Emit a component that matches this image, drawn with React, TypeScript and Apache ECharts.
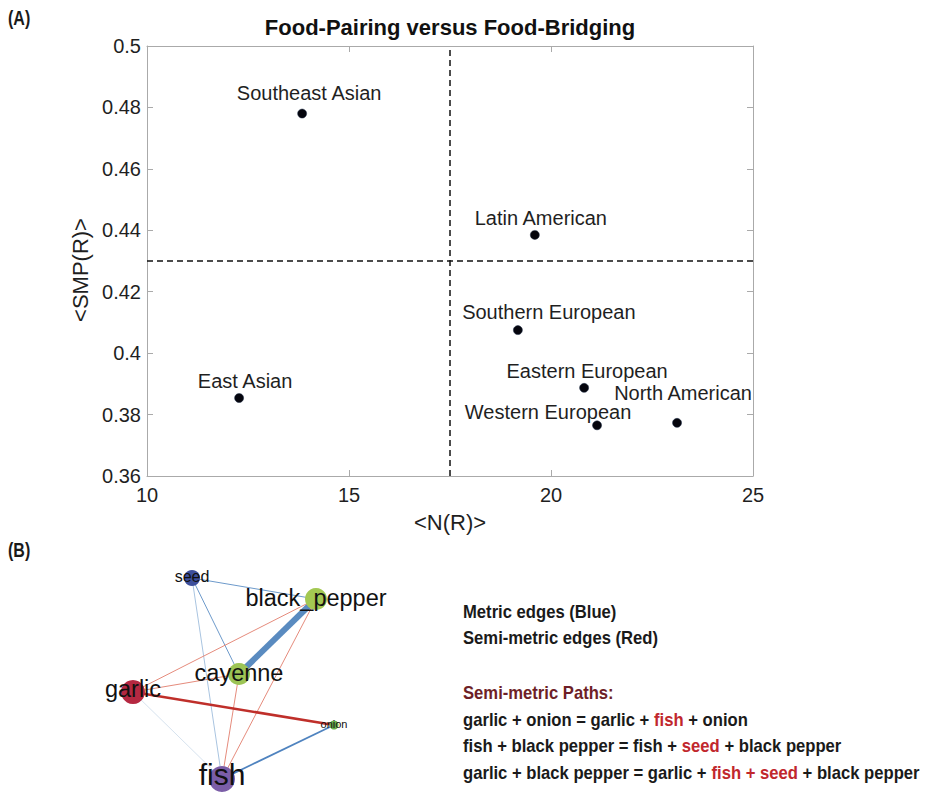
import React, { useEffect, useRef } from "react";
import * as echarts from "echarts";

// ---------- Panel A data ----------
const cuisines = [
  "Southeast Asian",
  "Latin American",
  "Southern European",
  "East Asian",
  "Eastern European",
  "North American",
  "Western European",
];
const meanN = [13.84, 19.6, 19.18, 12.28, 20.82, 23.12, 21.14];
const meanSMP = [0.478, 0.4385, 0.4075, 0.3854, 0.3887, 0.3773, 0.3765];
const xTicks = [10, 15, 20, 25];
const yTicks = [0.36, 0.38, 0.4, 0.42, 0.44, 0.46, 0.48, 0.5];
const splitN = 17.5;
const splitSMP = 0.43;
// label offsets (style) for each cuisine label, relative to its point
const labelOffsets = [
  [7, -21],
  [6, -17],
  [31, -18],
  [6, -17],
  [3, -17],
  [6, -30],
  [-49, -13],
];

// ---------- Panel B data ----------
const nodeNames = ["seed", "black_pepper", "cayenne", "garlic", "onion", "fish"];
const nodeX = [192, 316, 239, 133, 334, 222];
const nodeY = [578, 599, 674, 692, 725, 779];
const nodeSizes = [16, 22, 22, 24, 9, 26];
const nodeColors = ["#3d4f9c", "#a3c852", "#9cc455", "#b52841", "#6ab04c", "#7b5ea7"];
const nodeFont = [16, 23.5, 23.5, 23.5, 11, 30];
const nodeLabelDy = [-2, -1, -1, -3, -1, -5];

const linkSource = ["seed", "seed", "seed", "black_pepper", "black_pepper", "black_pepper", "cayenne", "cayenne", "garlic", "garlic", "fish"];
const linkTarget = ["black_pepper", "cayenne", "fish", "cayenne", "garlic", "fish", "garlic", "fish", "onion", "fish", "onion"];
const linkColor = ["#6d9acb", "#6d9acb", "#a9c4e0", "#5a8bc0", "#e58b7c", "#e58b7c", "#e58b7c", "#e58b7c", "#bf2f2a", "#d6e2ee", "#4f83bf"];
const linkWidth = [1, 1, 1, 6, 1, 1, 1, 1, 2.6, 1, 1.8];

const BLACK = "#1f1f1f";
const RED = "#c1272d";
const BOLDFONT = "'Liberation Sans', Arial, sans-serif";
const CONDENSE = 0.9;

export default function App() {
  const ref = useRef<HTMLDivElement>(null);

  useEffect(() => {
    document.body.style.margin = "0";
    if (!ref.current) return;
    const chart = echarts.init(ref.current, undefined, { renderer: "svg" });

    const scatterData = cuisines.map((name, i) => ({
      name,
      value: [meanN[i], meanSMP[i]],
      label: { offset: labelOffsets[i] },
    }));

    const axisLine = { show: true, lineStyle: { color: "#aaaaaa", width: 1 } };
    const tick = { show: true, inside: true, length: 6, lineStyle: { color: "#aaaaaa" } };

    const graphNodes = nodeNames.map((name, i) => ({
      name,
      value: [nodeX[i], nodeY[i]],
      symbolSize: nodeSizes[i],
      itemStyle: { color: nodeColors[i], opacity: 1 },
      label: {
        show: true,
        position: "inside",
        fontSize: nodeFont[i],
        offset: [0, nodeLabelDy[i]],
        color: "#111",
        fontFamily: "'Liberation Sans', Arial, sans-serif",
      },
    }));
    const graphLinks = linkSource.map((s, i) => ({
      source: s,
      target: linkTarget[i],
      lineStyle: { color: linkColor[i], width: linkWidth[i], opacity: 1, curveness: 0 },
    }));

    const pathLine = (parts: [string, boolean][]) =>
      parts.map(([t, red]) => `{${red ? "r" : "k"}|${t}}`).join("");

    const textRich = {
      k: { fill: "#1a1a1a", fontSize: 18.5, fontWeight: "bold", fontFamily: BOLDFONT },
      r: { fill: RED, fontSize: 18.5, fontWeight: "bold", fontFamily: BOLDFONT },
    };

    const rightLines: { y: number; parts: [string, boolean][] }[] = [
      { y: 612, parts: [["Metric edges (Blue)", false]] },
      { y: 638, parts: [["Semi-metric edges (Red)", false]] },
      { y: 720, parts: [["garlic + onion = garlic + ", false], ["fish", true], [" + onion", false]] },
      { y: 746, parts: [["fish + black pepper = fish + ", false], ["seed", true], [" + black pepper", false]] },
      { y: 773, parts: [["garlic + black pepper = garlic + ", false], ["fish + seed", true], [" + black pepper", false]] },
    ];

    chart.setOption({
      animation: false,
      textStyle: { fontFamily: "'Liberation Sans', Arial, Helvetica, sans-serif" },
      title: {
        text: "Food-Pairing versus Food-Bridging",
        left: 450,
        top: 16,
        textAlign: "center",
        padding: 0,
        textStyle: { fontSize: 22, fontWeight: "bold", color: "#111" },
      },
      grid: [
        { left: 147, top: 46, width: 606, height: 430, containLabel: false },
        { left: 0, top: 0, width: 925, height: 792, containLabel: false },
      ],
      xAxis: [
        {
          type: "value",
          gridIndex: 0,
          min: 10,
          max: 25,
          interval: 5,
          position: "bottom",
          name: "<N(R)>",
          nameLocation: "middle",
          nameGap: 35,
          nameTextStyle: { fontSize: 22, color: BLACK },
          axisLine,
          axisTick: tick,
          splitLine: { show: false },
          axisLabel: {
            fontSize: 20,
            color: BLACK,
            margin: 9,
            formatter: (v: number) => (xTicks.indexOf(v) >= 0 ? String(v) : ""),
          },
        },
        {
          type: "value",
          gridIndex: 0,
          min: 10,
          max: 25,
          interval: 5,
          position: "top",
          axisLine,
          axisTick: tick,
          splitLine: { show: false },
          axisLabel: { show: false },
        },
        { type: "value", gridIndex: 1, min: 0, max: 925, show: false },
      ],
      yAxis: [
        {
          type: "value",
          gridIndex: 0,
          min: 0.36,
          max: 0.5,
          interval: 0.02,
          position: "left",
          name: "<SMP(R)>",
          nameLocation: "middle",
          nameGap: 52,
          nameTextStyle: { fontSize: 22, color: BLACK, padding: [0, 18, 0, 0] },
          axisLine,
          axisTick: tick,
          splitLine: { show: false },
          axisLabel: {
            fontSize: 20,
            color: BLACK,
            margin: 6,
            formatter: (v: number) => {
              const s = String(Math.round(v * 100) / 100);
              return yTicks.some((t) => Math.abs(t - v) < 1e-9) ? s : "";
            },
          },
        },
        {
          type: "value",
          gridIndex: 0,
          min: 0.36,
          max: 0.5,
          interval: 0.02,
          position: "right",
          axisLine,
          axisTick: tick,
          splitLine: { show: false },
          axisLabel: { show: false },
        },
        { type: "value", gridIndex: 1, min: 0, max: 792, inverse: true, show: false },
      ],
      series: [
        {
          type: "scatter",
          xAxisIndex: 0,
          yAxisIndex: 0,
          symbolSize: 9,
          itemStyle: { color: "#05050d", borderColor: "#1b2a44", borderWidth: 0.5, opacity: 1 },
          data: scatterData,
          label: {
            show: true,
            position: "inside",
            formatter: "{b}",
            fontSize: 20,
            color: BLACK,
            opacity: 1,
            textBorderWidth: 0,
            align: "center",
            verticalAlign: "middle",
          },
          markLine: {
            silent: true,
            symbol: "none",
            label: { show: false },
            lineStyle: { color: "#111", type: [6, 4], width: 1.5, opacity: 1 },
            data: [{ xAxis: splitN }, { yAxis: splitSMP }],
          },
          z: 3,
        },
        {
          type: "graph",
          coordinateSystem: "cartesian2d",
          xAxisIndex: 2,
          yAxisIndex: 2,
          silent: true,
          edgeSymbol: ["none", "none"],
          data: graphNodes,
          links: graphLinks,
          z: 2,
        },
      ],
      graphic: [
        {
          type: "text",
          x: 8,
          y: 18,
          scaleX: 0.8,
          style: { text: "(A)", fontSize: 20, fontWeight: "bold", fontFamily: BOLDFONT, fill: "#1a1a1a", textVerticalAlign: "middle" },
        },
        {
          type: "text",
          x: 8,
          y: 550,
          scaleX: 0.8,
          style: { text: "(B)", fontSize: 20, fontWeight: "bold", fontFamily: BOLDFONT, fill: "#1a1a1a", textVerticalAlign: "middle" },
        },
        {
          type: "text",
          x: 463,
          y: 693,
          scaleX: CONDENSE,
          style: {
            text: "Semi-metric Paths:",
            fontSize: 18.5,
            fontWeight: "bold",
            fontFamily: BOLDFONT,
            fill: "#6e1f27",
            textVerticalAlign: "middle",
          },
        },
        ...rightLines.map((l) => ({
          type: "text",
          x: 463,
          y: l.y,
          scaleX: CONDENSE,
          style: {
            text: pathLine(l.parts),
            rich: textRich,
            fontSize: 18.5,
            fontWeight: "bold",
            fontFamily: BOLDFONT,
            fill: "#1a1a1a",
            textVerticalAlign: "middle",
          },
        })),
      ],
    });

    return () => chart.dispose();
  }, []);

  return <div ref={ref} style={{ width: 925, height: 792 }} />;
}
